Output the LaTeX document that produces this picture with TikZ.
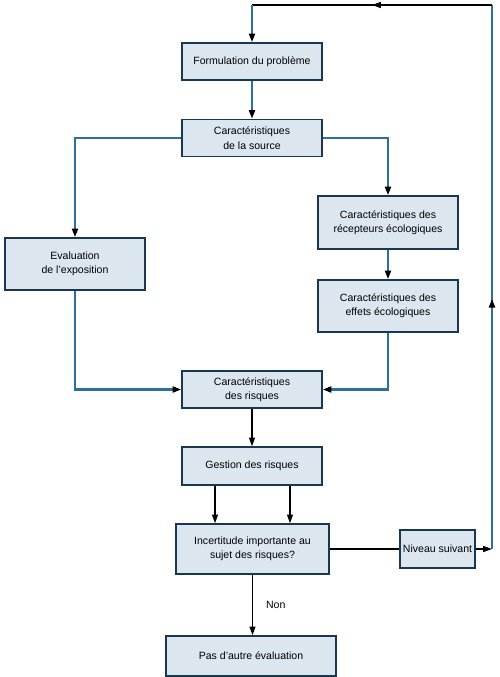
\documentclass[tikz,border=0pt]{standalone}
\usepackage{fontspec}
\setmainfont{Liberation Sans}
\definecolor{flowblue}{RGB}{43,112,158}
\definecolor{boxfill}{RGB}{220,230,239}
\definecolor{boxedge}{RGB}{25,55,80}
\usetikzlibrary{arrows.meta,positioning,decorations.markings}

\begin{document}
\begin{tikzpicture}[x=0.02cm, y=-0.02cm,
    procbox/.style={rectangle, draw=boxedge, line width=0.8pt, fill=boxfill,
                    minimum width=2.8cm, minimum height=0.74cm, align=center,
                    inner sep=1pt, font=\fontsize{6}{8.2}\selectfont},
    bluelink/.style={draw=flowblue, line width=1.3pt},
    blacklink/.style={draw=black, line width=0.75pt},
    tip/.style={-{Triangle[length=5pt, width=3.4pt, color=black]}},
    midtip/.style={postaction={decorate}, decoration={markings,
                   mark=at position #1 with {\arrow{Triangle[length=5pt, width=3.4pt, color=black]}}}}
  ]
    \useasboundingbox (0,0) rectangle (500,677);

    % Main column
    \node[procbox] (form)    at (252,61.5) {Formulation du problème};
    \node[procbox] (source)  at (252,138)  {Caractéristiques\\de la source};
    \node[procbox, minimum height=1.04cm] (expo)   at (75,264)  {Evaluation\\de l'exposition};
    \node[procbox, minimum height=1.06cm] (recep)  at (388,222.5) {Caractéristiques des\\récepteurs écologiques};
    \node[procbox, minimum height=1.04cm] (effets) at (388,306)   {Caractéristiques des\\effets écologiques};
    \node[procbox] (risques) at (252,389.5) {Caractéristiques\\des risques};
    \node[procbox, minimum height=0.76cm] (gestion) at (252,466) {Gestion des risques};
    \node[procbox, minimum width=3.06cm, minimum height=1.0cm] (incert) at (252.5,549)
        {Incertitude importante au\\sujet des risques?};
    \node[procbox, minimum width=1.5cm, minimum height=0.76cm] (niveau) at (437.5,549) {Niveau suivant};
    \node[procbox, minimum width=3.4cm, minimum height=0.8cm] (pas) at (251,656) {Pas d'autre évaluation};

    % Return loop
    \coordinate (ret)      at (492,549);
    \coordinate (topright) at (492,5);
    \coordinate (topleft)  at (252,5);

    % Source to the three branches
    \draw[bluelink, tip] (form) -- (source);
    \draw[bluelink, tip] (source.west) -| (expo.north);
    \draw[bluelink, tip] (source.east) -| (recep.north);
    \draw[bluelink, tip] (recep) -- (effets);
    \draw[bluelink, tip] (expo.south) |- (risques.west);
    \draw[bluelink, tip] (effets.south) |- (risques.east);

    % Management and decision
    \draw[blacklink, tip] (risques) -- (gestion);
    \draw[blacklink, tip] ([xshift=-37*0.02cm]gestion.south) -- ([xshift=-37*0.02cm]gestion.south |- incert.north);
    \draw[blacklink, tip] ([xshift=38*0.02cm]gestion.south) -- ([xshift=38*0.02cm]gestion.south |- incert.north);
    \draw[blacklink] (incert) -- (niveau);
    \draw[blacklink, tip] (incert.south) -- node[right=4pt, font=\fontsize{6}{7}\selectfont] (non) {Non} (incert.south |- pas.north);

    % Next level goes back to the top
    \draw[blacklink, tip] (niveau) -- (ret);
    \draw[bluelink, midtip=0.46] (ret) -- (topright);
    \draw[blacklink, midtip=0.5] (topright) -- (topleft);
    \draw[bluelink, tip] (topleft) -- (form);
  \end{tikzpicture}
\end{document}
